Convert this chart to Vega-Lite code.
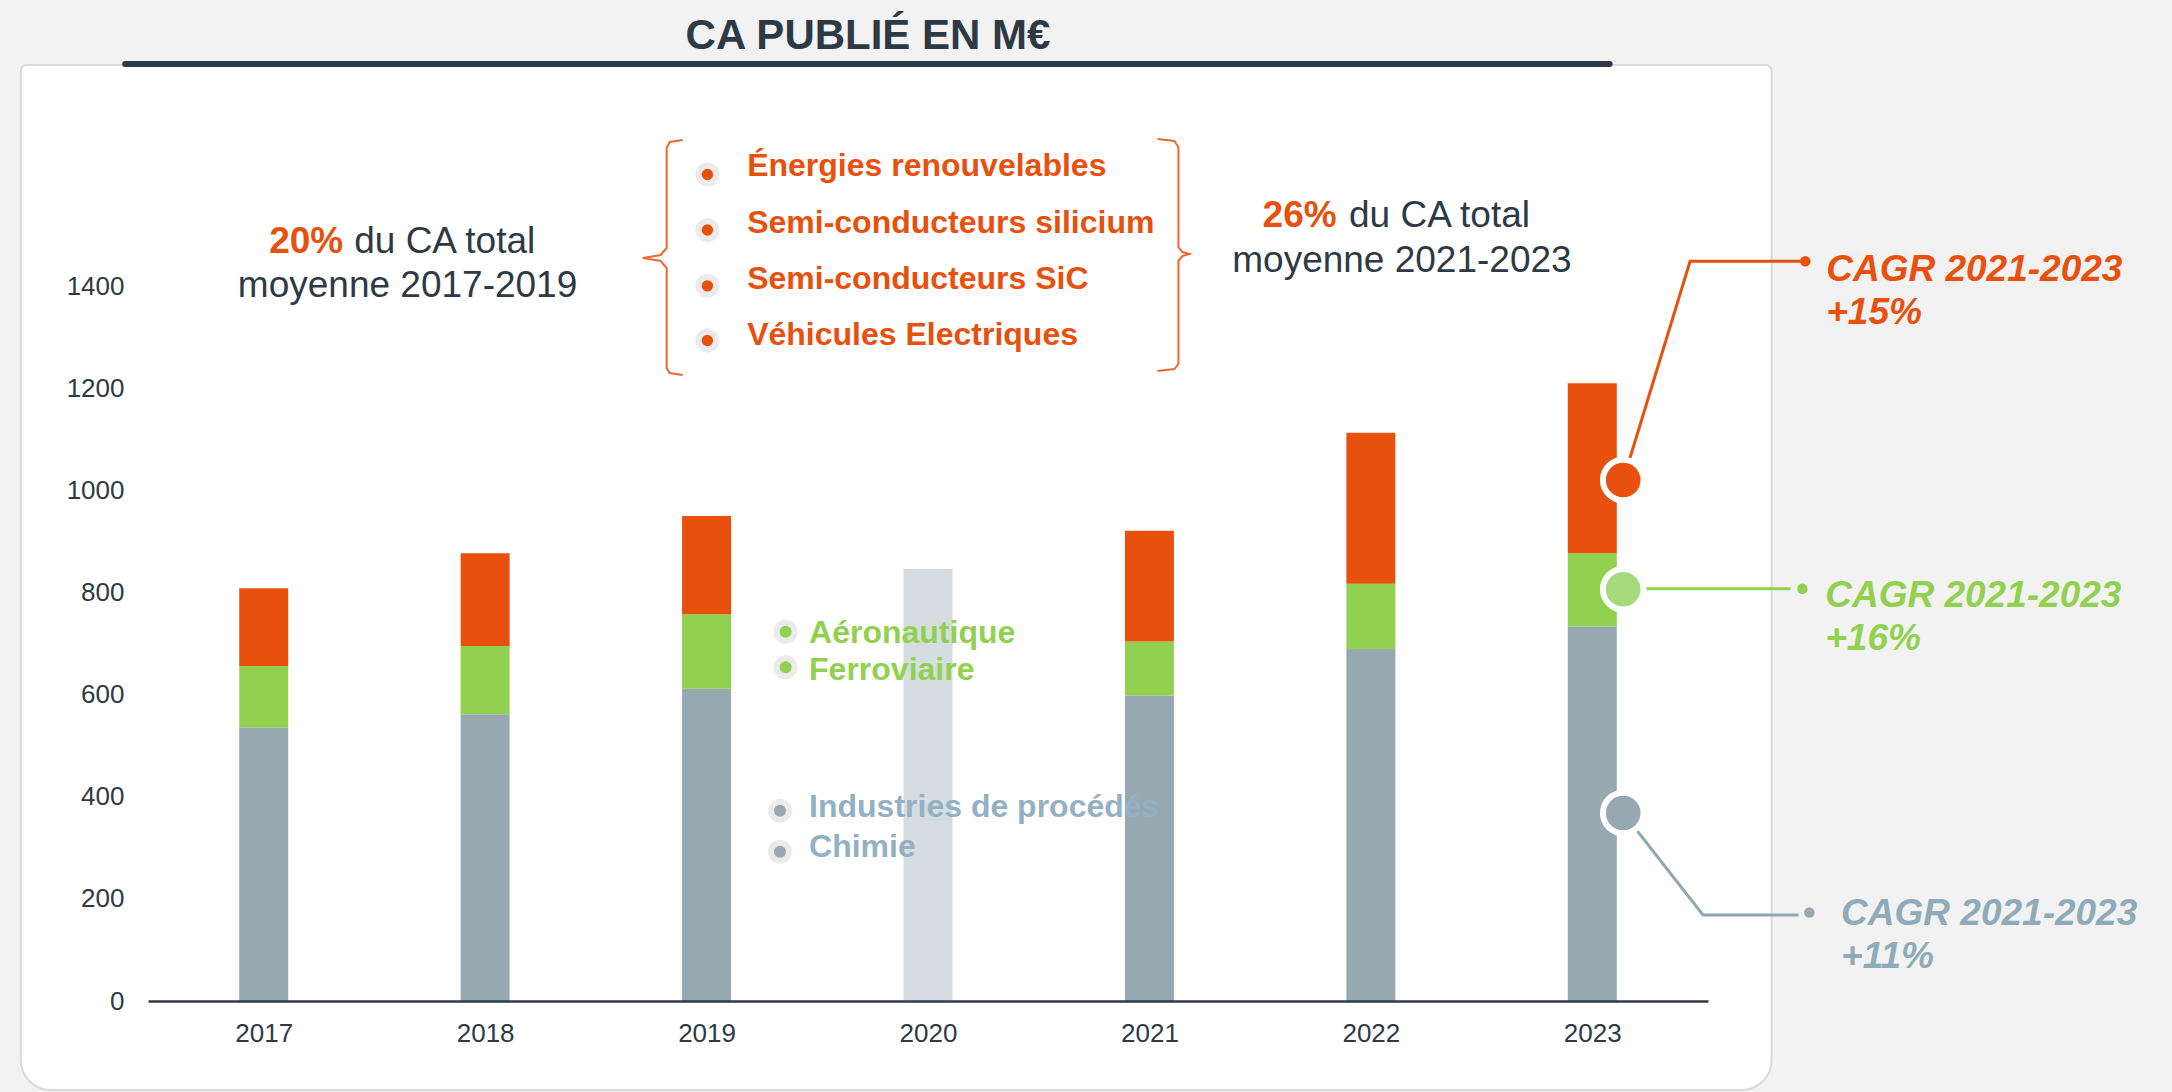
{
  "$schema": "https://vega.github.io/schema/vega-lite/v6.json",
  "autosize": "none",
  "width": 1560,
  "height": 936,
  "padding": {"left": 148, "top": 65, "right": 464, "bottom": 91},
  "background": "#F2F2F2",
  "config": {"view": {"stroke": null}, "font": "Liberation Sans"},
  "title": {"text": "CA PUBLIÉ EN M€", "font": "Liberation Sans", "fontSize": 42, "fontWeight": "bold", "color": "#2D3A45", "anchor": "middle", "frame": "group", "dx": -60, "offset": 3},
  "encoding": {
    "x": {"field": "x", "type": "quantitative", "scale": {"domain": [2016.5, 2023.5], "nice": false, "zero": false},
      "axis": {"values": [2017, 2018, 2019, 2020, 2021, 2022, 2023], "format": "d", "title": null, "grid": false, "ticks": false, "tickSize": 0, "labelPadding": 19, "labelFontSize": 26, "labelFont": "Liberation Sans", "labelColor": "#2D3A45", "domainColor": "#2D3A45", "domainWidth": 2.5, "labelFlush": false, "labelOverlap": false, "zindex": 1}},
    "y": {"field": "y", "type": "quantitative", "scale": {"domain": [0, 1835], "nice": false, "zero": false},
      "axis": {"values": [0, 200, 400, 600, 800, 1000, 1200, 1400], "format": "d", "title": null, "grid": false, "domain": false, "ticks": false, "tickSize": 0, "labelPadding": 24, "labelFontSize": 26, "labelFont": "Liberation Sans", "labelColor": "#2D3A45", "zindex": 1}}
  },
  "layer": [
    {
      "data": {"values": [{"x": 2015.903, "x2": 2023.81, "y": -174.5, "y2": 1835}]},
      "mark": {"type": "rect", "fill": "#FFFFFF", "stroke": "#D9D9D9", "strokeWidth": 2, "cornerRadiusBottomLeft": 30, "cornerRadiusBottomRight": 30, "cornerRadiusTopLeft": 6, "cornerRadiusTopRight": 6},
      "encoding": {"x2": {"field": "x2"}, "y2": {"field": "y2"}}
    },
    {
      "data": {"values": [{"x": 2016.3744, "x2": 2023.0782, "y": 1836.9}]},
      "mark": {"type": "rule", "stroke": "#2D3A45", "strokeWidth": 6, "strokeCap": "round"},
      "encoding": {"x2": {"field": "x2"}}
    },
    {
      "data": {"values": [
        {"year": 2017, "segment": "Industrie & Chimie", "value": 536, "rank": 1},
        {"year": 2017, "segment": "Aéronautique & Ferroviaire", "value": 121, "rank": 2},
        {"year": 2017, "segment": "Énergies & Semi-conducteurs", "value": 152, "rank": 3},
        {"year": 2018, "segment": "Industrie & Chimie", "value": 562, "rank": 1},
        {"year": 2018, "segment": "Aéronautique & Ferroviaire", "value": 134, "rank": 2},
        {"year": 2018, "segment": "Énergies & Semi-conducteurs", "value": 182, "rank": 3},
        {"year": 2019, "segment": "Industrie & Chimie", "value": 612, "rank": 1},
        {"year": 2019, "segment": "Aéronautique & Ferroviaire", "value": 146, "rank": 2},
        {"year": 2019, "segment": "Énergies & Semi-conducteurs", "value": 193, "rank": 3},
        {"year": 2020, "segment": "Total 2020", "value": 847, "rank": 1},
        {"year": 2021, "segment": "Industrie & Chimie", "value": 599, "rank": 1},
        {"year": 2021, "segment": "Aéronautique & Ferroviaire", "value": 106, "rank": 2},
        {"year": 2021, "segment": "Énergies & Semi-conducteurs", "value": 217, "rank": 3},
        {"year": 2022, "segment": "Industrie & Chimie", "value": 690, "rank": 1},
        {"year": 2022, "segment": "Aéronautique & Ferroviaire", "value": 128, "rank": 2},
        {"year": 2022, "segment": "Énergies & Semi-conducteurs", "value": 296, "rank": 3},
        {"year": 2023, "segment": "Industrie & Chimie", "value": 734, "rank": 1},
        {"year": 2023, "segment": "Aéronautique & Ferroviaire", "value": 144, "rank": 2},
        {"year": 2023, "segment": "Énergies & Semi-conducteurs", "value": 333, "rank": 3}
      ]},
      "mark": {"type": "bar", "width": 49, "orient": "vertical"},
      "encoding": {
        "x": {"field": "year", "type": "quantitative", "scale": {"domain": [2016.5, 2023.5], "nice": false, "zero": false},
          "axis": {"values": [2017, 2018, 2019, 2020, 2021, 2022, 2023], "format": "d", "title": null, "grid": false, "ticks": false, "tickSize": 0, "labelPadding": 19, "labelFontSize": 26, "labelFont": "Liberation Sans", "labelColor": "#2D3A45", "domainColor": "#2D3A45", "domainWidth": 2.5, "labelFlush": false, "labelOverlap": false, "zindex": 1}},
        "y": {"field": "value", "type": "quantitative", "stack": "zero", "scale": {"domain": [0, 1835], "nice": false, "zero": false},
          "axis": {"values": [0, 200, 400, 600, 800, 1000, 1200, 1400], "format": "d", "title": null, "grid": false, "domain": false, "ticks": false, "tickSize": 0, "labelPadding": 24, "labelFontSize": 26, "labelFont": "Liberation Sans", "labelColor": "#2D3A45", "zindex": 1}},
        "color": {"field": "segment", "type": "nominal", "scale": {"domain": ["Industrie & Chimie", "Aéronautique & Ferroviaire", "Énergies & Semi-conducteurs", "Total 2020"], "range": ["#97A9B0", "#92D050", "#E8500E", "#D5DDE0"]}, "legend": null},
        "order": {"field": "rank", "type": "quantitative"}
      }
    },
    {
      "data": {"values": [
        {"b": "gauche", "i": 0, "x": 2018.8917, "y": 1687.9},
        {"b": "gauche", "i": 1, "x": 2018.8333, "y": 1684.0},
        {"b": "gauche", "i": 2, "x": 2018.8198, "y": 1672.2},
        {"b": "gauche", "i": 3, "x": 2018.8198, "y": 1476.2},
        {"b": "gauche", "i": 4, "x": 2018.7929, "y": 1462.5},
        {"b": "gauche", "i": 5, "x": 2018.7122, "y": 1456.6},
        {"b": "gauche", "i": 6, "x": 2018.7929, "y": 1450.7},
        {"b": "gauche", "i": 7, "x": 2018.8198, "y": 1437.0},
        {"b": "gauche", "i": 8, "x": 2018.8198, "y": 1241.0},
        {"b": "gauche", "i": 9, "x": 2018.8333, "y": 1231.1},
        {"b": "gauche", "i": 10, "x": 2018.8917, "y": 1227.2},
        {"b": "droite", "i": 0, "x": 2021.0365, "y": 1689.9},
        {"b": "droite", "i": 1, "x": 2021.1128, "y": 1686.0},
        {"b": "droite", "i": 2, "x": 2021.1308, "y": 1674.2},
        {"b": "droite", "i": 3, "x": 2021.1308, "y": 1478.1},
        {"b": "droite", "i": 4, "x": 2021.1487, "y": 1468.3},
        {"b": "droite", "i": 5, "x": 2021.1801, "y": 1464.4},
        {"b": "droite", "i": 6, "x": 2021.1487, "y": 1460.5},
        {"b": "droite", "i": 7, "x": 2021.1308, "y": 1450.7},
        {"b": "droite", "i": 8, "x": 2021.1308, "y": 1248.8},
        {"b": "droite", "i": 9, "x": 2021.1128, "y": 1239.0},
        {"b": "droite", "i": 10, "x": 2021.0365, "y": 1235.1}
      ]},
      "mark": {"type": "line", "stroke": "#EB6B2E", "strokeWidth": 2, "interpolate": "linear"},
      "encoding": {
        "detail": {"field": "b", "type": "nominal"},
        "order": {"field": "i", "type": "quantitative"}
      }
    },
    {
      "data": {"values": [
        {"x": 2019.0038, "y": 1620.3}, {"x": 2019.0038, "y": 1511.5}, {"x": 2019.0038, "y": 1402}, {"x": 2019.0038, "y": 1295},
        {"x": 2019.357, "y": 724}, {"x": 2019.357, "y": 654.2},
        {"x": 2019.3314, "y": 373.1}, {"x": 2019.3314, "y": 292.7}
      ]},
      "mark": {"type": "point", "shape": "circle", "filled": true, "fill": "#EBEBEB", "opacity": 1, "size": 576}
    },
    {
      "data": {"values": [{"x": 2019.0038, "y": 1620.3}, {"x": 2019.0038, "y": 1511.5}, {"x": 2019.0038, "y": 1402}, {"x": 2019.0038, "y": 1295}]},
      "mark": {"type": "point", "shape": "circle", "filled": true, "fill": "#E8500E", "opacity": 1, "size": 130}
    },
    {
      "data": {"values": [{"x": 2019.357, "y": 724}, {"x": 2019.357, "y": 654.2}]},
      "mark": {"type": "point", "shape": "circle", "filled": true, "fill": "#92D050", "opacity": 1, "size": 144}
    },
    {
      "data": {"values": [{"x": 2019.3314, "y": 373.1}, {"x": 2019.3314, "y": 292.7}]},
      "mark": {"type": "point", "shape": "circle", "filled": true, "fill": "#97A9B0", "opacity": 1, "size": 144}
    },
    {
      "data": {"values": [
        {"x": 2017.3593, "y": 1467, "t": "20%"},
        {"x": 2021.8456, "y": 1516.8, "t": "26%"}
      ]},
      "mark": {"type": "text", "align": "right", "baseline": "alphabetic", "font": "Liberation Sans", "fontSize": 37, "fontWeight": "bold", "color": "#E8500E"},
      "encoding": {"text": {"field": "t"}}
    },
    {
      "data": {"values": [
        {"x": 2017.4087, "y": 1467, "t": "du CA total"},
        {"x": 2021.9012, "y": 1516.8, "t": "du CA total"}
      ]},
      "mark": {"type": "text", "align": "left", "baseline": "alphabetic", "font": "Liberation Sans", "fontSize": 37, "color": "#2D3A45"},
      "encoding": {"text": {"field": "t"}}
    },
    {
      "data": {"values": [
        {"x": 2017.6496, "y": 1379.5, "t": "moyenne 2017-2019"},
        {"x": 2022.1404, "y": 1429.7, "t": "moyenne 2021-2023"}
      ]},
      "mark": {"type": "text", "align": "center", "baseline": "alphabetic", "font": "Liberation Sans", "fontSize": 37, "color": "#2D3A45"},
      "encoding": {"text": {"field": "t"}}
    },
    {
      "data": {"values": [
        {"x": 2019.1833, "y": 1616.5, "t": "Énergies renouvelables"},
        {"x": 2019.1833, "y": 1506, "t": "Semi-conducteurs silicium"},
        {"x": 2019.1833, "y": 1396.8, "t": "Semi-conducteurs SiC"},
        {"x": 2019.1833, "y": 1286.2, "t": "Véhicules Electriques"}
      ]},
      "mark": {"type": "text", "align": "left", "baseline": "alphabetic", "font": "Liberation Sans", "fontSize": 32, "fontWeight": "bold", "color": "#E8500E"},
      "encoding": {"text": {"field": "t"}}
    },
    {
      "data": {"values": [
        {"x": 2019.4629, "y": 702.4, "t": "Aéronautique"},
        {"x": 2019.4629, "y": 629.3, "t": "Ferroviaire"}
      ]},
      "mark": {"type": "text", "align": "left", "baseline": "alphabetic", "font": "Liberation Sans", "fontSize": 32, "fontWeight": "bold", "color": "#92D050"},
      "encoding": {"text": {"field": "t"}}
    },
    {
      "data": {"values": [
        {"x": 2019.4629, "y": 360.1, "t": "Industries de procédés"},
        {"x": 2019.4629, "y": 282.9, "t": "Chimie"}
      ]},
      "mark": {"type": "text", "align": "left", "baseline": "alphabetic", "font": "Liberation Sans", "fontSize": 32, "fontWeight": "bold", "color": "#93B1C3"},
      "encoding": {"text": {"field": "t"}}
    },
    {
      "data": {"values": [
        {"s": "orange", "i": 0, "x": 2023.1397, "y": 1021.4},
        {"s": "orange", "i": 1, "x": 2023.4417, "y": 1450.1},
        {"s": "orange", "i": 2, "x": 2023.9577, "y": 1450.1}
      ]},
      "mark": {"type": "line", "stroke": "#E8500E", "strokeWidth": 3},
      "encoding": {"order": {"field": "i", "type": "quantitative"}}
    },
    {
      "data": {"values": [
        {"s": "vert", "i": 0, "x": 2023.1397, "y": 808.3},
        {"s": "vert", "i": 1, "x": 2023.8949, "y": 808.3}
      ]},
      "mark": {"type": "line", "stroke": "#92D050", "strokeWidth": 3},
      "encoding": {"order": {"field": "i", "type": "quantitative"}}
    },
    {
      "data": {"values": [
        {"s": "gris", "i": 0, "x": 2023.1397, "y": 368.6},
        {"s": "gris", "i": 1, "x": 2023.5, "y": 168.6},
        {"s": "gris", "i": 2, "x": 2023.9308, "y": 168.6}
      ]},
      "mark": {"type": "line", "stroke": "#8FA9B4", "strokeWidth": 3},
      "encoding": {"order": {"field": "i", "type": "quantitative"}}
    },
    {
      "data": {"values": [{"x": 2023.962, "y": 1450.1}]},
      "mark": {"type": "point", "shape": "circle", "filled": true, "fill": "#E8500E", "opacity": 1, "size": 110}
    },
    {
      "data": {"values": [{"x": 2023.9487, "y": 808.3}]},
      "mark": {"type": "point", "shape": "circle", "filled": true, "fill": "#92D050", "opacity": 1, "size": 110}
    },
    {
      "data": {"values": [{"x": 2023.9802, "y": 173.5}]},
      "mark": {"type": "point", "shape": "circle", "filled": true, "fill": "#97A9B0", "opacity": 1, "size": 110}
    },
    {
      "data": {"values": [{"x": 2023.1397, "y": 1021.4}]},
      "mark": {"type": "point", "shape": "circle", "filled": true, "fill": "#E8500E", "stroke": "#FFFFFF", "strokeWidth": 6, "opacity": 1, "strokeOpacity": 1, "size": 1650}
    },
    {
      "data": {"values": [{"x": 2023.1397, "y": 807.1}]},
      "mark": {"type": "point", "shape": "circle", "filled": true, "fill": "#A3DB7B", "stroke": "#FFFFFF", "strokeWidth": 6, "opacity": 1, "strokeOpacity": 1, "size": 1650}
    },
    {
      "data": {"values": [{"x": 2023.1397, "y": 368.6}]},
      "mark": {"type": "point", "shape": "circle", "filled": true, "fill": "#97A9B0", "stroke": "#FFFFFF", "strokeWidth": 6, "opacity": 1, "strokeOpacity": 1, "size": 1650}
    },
    {
      "data": {"values": [
        {"x": 2024.0564, "y": 1412.1, "t": "CAGR 2021-2023"},
        {"x": 2024.0564, "y": 1328.2, "t": "+15%"}
      ]},
      "mark": {"type": "text", "align": "left", "baseline": "alphabetic", "font": "Liberation Sans", "fontSize": 37, "fontWeight": "bold", "fontStyle": "italic", "color": "#E8500E"},
      "encoding": {"text": {"field": "t"}}
    },
    {
      "data": {"values": [
        {"x": 2024.0519, "y": 773.2, "t": "CAGR 2021-2023"},
        {"x": 2024.0519, "y": 687.5, "t": "+16%"}
      ]},
      "mark": {"type": "text", "align": "left", "baseline": "alphabetic", "font": "Liberation Sans", "fontSize": 37, "fontWeight": "bold", "fontStyle": "italic", "color": "#92D050"},
      "encoding": {"text": {"field": "t"}}
    },
    {
      "data": {"values": [
        {"x": 2024.1237, "y": 148.9, "t": "CAGR 2021-2023"},
        {"x": 2024.1237, "y": 64, "t": "+11%"}
      ]},
      "mark": {"type": "text", "align": "left", "baseline": "alphabetic", "font": "Liberation Sans", "fontSize": 37, "fontWeight": "bold", "fontStyle": "italic", "color": "#8FAAB9"},
      "encoding": {"text": {"field": "t"}}
    }
  ]
}
